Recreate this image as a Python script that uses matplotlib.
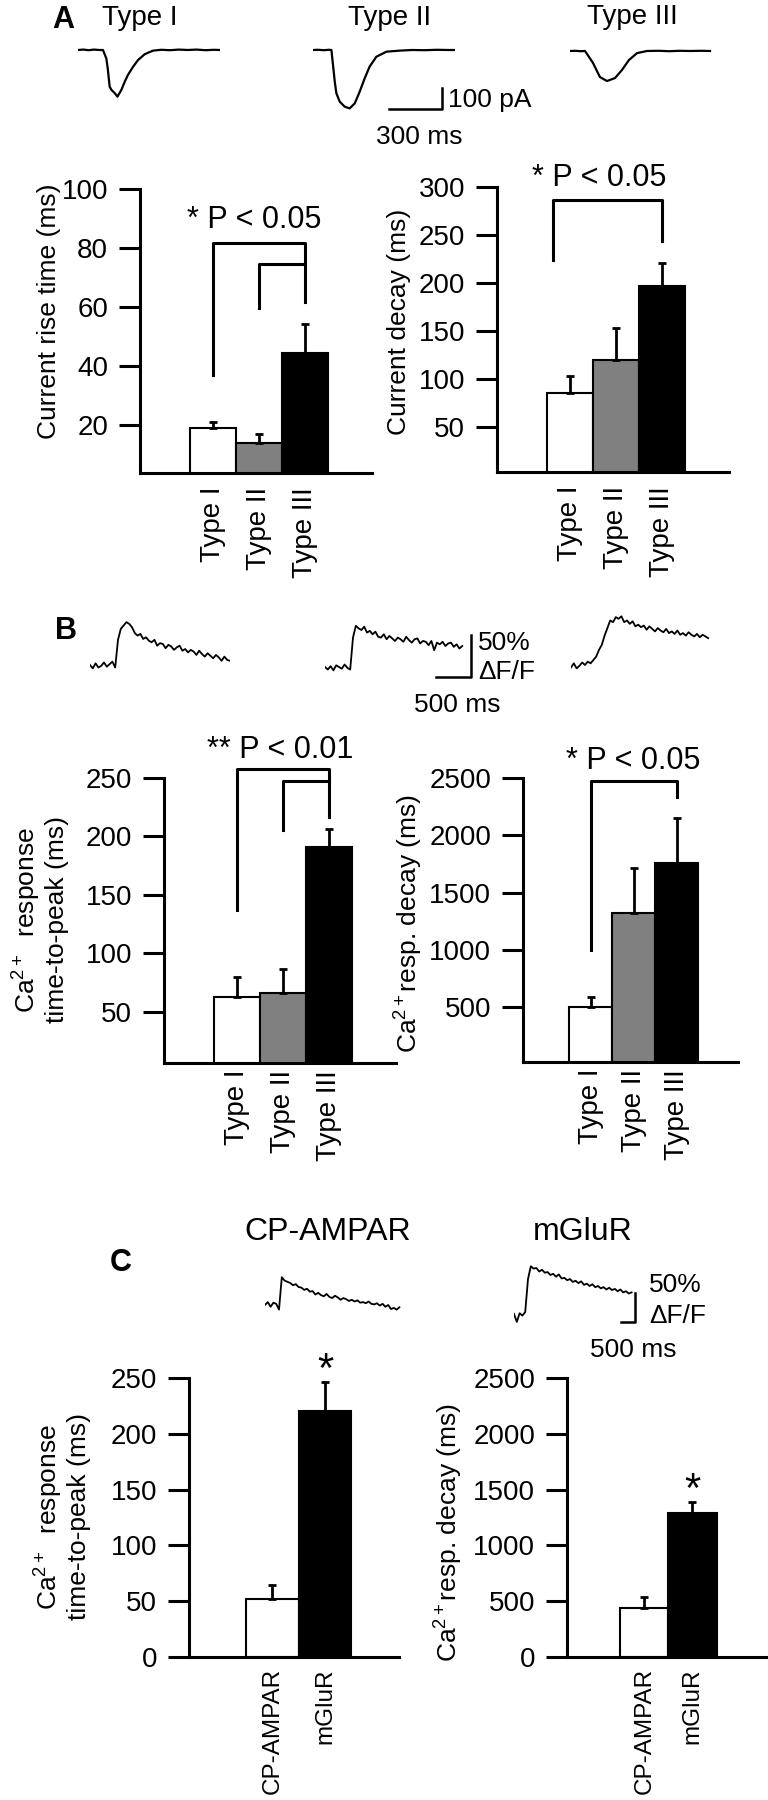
import matplotlib
matplotlib.use('Agg')
import matplotlib.pyplot as plt
import numpy as np

plt.rcParams['font.family'] = ['Liberation Sans', 'DejaVu Sans']
plt.rcParams['mathtext.fontset'] = 'custom'
plt.rcParams['mathtext.rm'] = 'Liberation Sans'
plt.rcParams['mathtext.it'] = 'Liberation Sans:italic'
plt.rcParams['mathtext.bf'] = 'Liberation Sans:bold'

W, H = 768, 1800

# bar chart data (mean, upper SEM)
types = ['Type I', 'Type II', 'Type III']
receptors = ['CP-AMPAR', 'mGluR']

rise_mean = [19, 14, 44.4]
rise_sem = [2, 3, 9.8]
decay_mean = [85.4, 119.8, 197]
decay_sem = [17.6, 33.2, 24]
ca_ttp_mean = [63, 66.3, 191.4]
ca_ttp_sem = [17, 20.5, 15.3]
ca_decay_mean = [500, 1322, 1761]
ca_decay_sem = [87, 396, 387]
rec_ttp_mean = [52, 220.6]
rec_ttp_sem = [12.5, 25.4]
rec_decay_mean = [439, 1290]
rec_decay_sem = [99, 99]

# example currents (ms, pA)
i1_t = [0, 30, 60, 90, 120, 141, 160, 168, 179, 189, 207, 223, 245, 264, 282, 311, 339, 377, 424, 470, 520, 570, 620, 670, 720, 770, 800]
i1_v = [0, 2, -1, 2, 0, 0, -40, -88, -175, -190, -205, -222, -190, -151, -119, -80, -48, -20, -3, 1, -1, 2, 0, 2, -1, 1, 0]
i2_t = [0, 30, 60, 90, 104, 113, 123, 132, 151, 179, 207, 236, 264, 292, 320, 358, 415, 490, 560, 630, 700, 760, 800]
i2_v = [0, 1, -1, 1, 0, -71, -151, -206, -246, -270, -278, -254, -198, -135, -79, -32, -8, -3, 0, -1, 1, 0, 0]
i3_t = [0, 30, 60, 85, 130, 169, 209, 254, 294, 333, 379, 435, 500, 560, 620, 680, 740, 791]
i3_v = [0, 1, -1, 0, -57, -124, -143, -129, -90, -43, -10, 0, 1, -1, 1, 0, 1, 0]

# Ca2+ responses (dF/F %), B sampled every 40 ms, C every 100 ms
ca1 = [0, -4, 2, -3, -1, 3, -2, 1, 4, -3, 30, 43, 47, 51, 49, 45, 38, 35, 37, 31, 33, 29, 27, 30, 23,
       26, 25, 20, 24, 22, 18, 21, 23, 17, 19, 15, 18, 16, 12, 17, 13, 10, 14, 11, 8, 12, 9, 5, 10, 6, 5]
ca2 = [0, -3, 1, -4, 2, 0, -2, 3, -1, -3, 35, 49, 46, 44, 48, 41, 43, 39, 42, 36, 35, 39, 33, 37, 34,
       31, 35, 33, 30, 36, 32, 29, 33, 34, 28, 31, 30, 26, 31, 20, 29, 27, 30, 25, 28, 29, 24, 27, 22, 25]
ca3 = [-3, 2, -4, -1, 3, 0, 4, 2, 6, 10, 18, 24, 35, 44, 53, 51, 57, 55, 58, 51, 53, 49, 52, 46, 48,
       45, 47, 42, 46, 43, 40, 44, 41, 39, 43, 38, 40, 37, 41, 36, 38, 35, 39, 36, 34, 37, 33, 36, 34, 32]
ca_cp = [0, 5, -3, 4, 2, -8, 48, 42, 40, 38, 34, 36, 31, 30, 26, 28, 23, 24, 18, 21, 17, 15, 19, 14, 12,
         16, 13, 9, 12, 10, 7, 9, 6, 8, 4, 5, 3, 6, 2, 1, 3, -1, 2, -3, 0, -7, -5, -8, -4]
ca_mg = [2, -12, 3, -1, 5, 62, 84, 80, 81, 75, 78, 73, 74, 69, 71, 66, 70, 63, 64, 60, 62, 57, 59, 55, 58,
         52, 54, 50, 53, 48, 50, 46, 48, 44, 47, 43, 45, 41, 44, 39, 41, 37, 39]

fig = plt.figure(figsize=(W / 100, H / 100), dpi=100)


def px_axes(x0, y0, w, h):
    return fig.add_axes([x0 / W, 1 - (y0 + h) / H, w / W, h / H])


def ftext(x, y, s, **kw):
    kw.setdefault('ha', 'center')
    kw.setdefault('va', 'center')
    fig.text(x / W, 1 - y / H, s, **kw)


def trace_axes(x_px, base_px, t_span, v_lo, v_hi, sx, sy):
    ax = px_axes(x_px, base_px - v_hi * sy, t_span * sx, (v_hi - v_lo) * sy)
    ax.set_xlim(0, t_span)
    ax.set_ylim(v_lo, v_hi)
    ax.axis('off')
    return ax


def scale_bar(ax, t0, v0, dt, dv):
    ax.plot([t0 - dt, t0, t0], [v0, v0, v0 + dv], color='black', lw=1.8, clip_on=False)


def bar_panel(rect, xlim, ylim, yticks, means, sems, colors, labels, xfs=20, xpad=10):
    ax = px_axes(*rect)
    x = np.arange(len(means))
    ax.bar(x, means, width=1.0, color=colors, edgecolor='black', linewidth=1.5, zorder=2)
    ax.errorbar(x, means, yerr=[[0] * len(sems), sems], fmt='none', ecolor='black',
                elinewidth=2, capsize=3, capthick=2, zorder=3)
    ax.set_xlim(xlim)
    ax.set_ylim(ylim)
    ax.set_yticks(yticks)
    ax.set_xticks(x)
    ax.set_xticklabels(labels, rotation=90, fontsize=xfs)
    ax.tick_params(axis='x', length=0, pad=xpad)
    ax.tick_params(axis='y', direction='out', length=15, width=2.2, labelsize=20, pad=8)
    for s in ['top', 'right']:
        ax.spines[s].set_visible(False)
    for s in ['left', 'bottom']:
        ax.spines[s].set_linewidth(2.2)
    ax.patch.set_alpha(0)
    return ax


def bracket(ax, xs, ys):
    ax.plot(xs, ys, color='black', lw=2.2, clip_on=False)


col3 = ['white', '#808080', 'black']
col2 = ['white', 'black']

# ---------------- A ----------------
ftext(63, 20, 'A', fontsize=22, fontweight='bold')
ftext(140, 18, 'Type I', fontsize=20)
ftext(390, 18, 'Type II', fontsize=20)
ftext(632, 17, 'Type III', fontsize=20)

sxA, syA = 0.177, 0.21
ax = trace_axes(78, 50, 800, -300, 20, sxA, syA)
ax.plot(i1_t, i1_v, color='black', lw=1.6)
ax = trace_axes(313, 50, 800, -300, 20, sxA, syA)
ax.plot(i2_t, i2_v, color='black', lw=1.6)
scale_bar(ax, 727, -281, 300, 100)
ax = trace_axes(570, 51, 800, -300, 20, sxA, syA)
ax.plot(i3_t, i3_v, color='black', lw=1.6)
ftext(448, 100, '100 pA', fontsize=19, ha='left')
ftext(419, 137, '300 ms', fontsize=19)

ax = bar_panel((140, 189, 232, 284), (-1.576, 3.467), (3.7, 100), [20, 40, 60, 80, 100],
               rise_mean, rise_sem, col3, types, xpad=10)
bracket(ax, [0, 0, 2, 2], [37, 81.7, 81.7, 61.7])
bracket(ax, [1, 1, 2], [59.7, 74.6, 74.6])
ax.text(0.9, 89.5, '* P < 0.05', fontsize=22, ha='center', va='center')
ftext(49, 311, 'Current rise time (ms)', fontsize=19, rotation=90)

ax = bar_panel((497, 187, 232, 285), (-1.576, 3.467), (3, 300), [50, 100, 150, 200, 250, 300],
               decay_mean, decay_sem, col3, types, xpad=10)
bracket(ax, [-0.36, -0.36, 2, 2], [224, 286, 286, 244])
ax.text(0.65, 309, '* P < 0.05', fontsize=22, ha='center', va='center')
ftext(399, 322, 'Current decay (ms)', fontsize=19, rotation=90)

# ---------------- B ----------------
ftext(66, 631, 'B', fontsize=22, fontweight='bold')
sxB, syB = 0.07, 0.84
ax = trace_axes(90, 665, 2000, -20, 70, sxB, syB)
ax.plot(np.arange(len(ca1)) * 40, ca1, color='black', lw=1.3)
ax = trace_axes(325, 667, 2000, -20, 70, sxB, syB)
ax.plot(np.arange(len(ca2)) * 40, ca2, color='black', lw=1.3)
scale_bar(ax, 2086, -12, 500, 50)
ax = trace_axes(571, 665, 2000, -20, 70, sxB, syB)
ax.plot(np.arange(len(ca3)) * 40, ca3, color='black', lw=1.3)
ftext(478, 643, '50%', fontsize=19, ha='left')
ftext(478, 672, '\u0394F/F', fontsize=19, ha='left')
ftext(457, 705, '500 ms', fontsize=19)

ax = bar_panel((164, 778, 232, 285), (-1.587, 3.457), (6.4, 250), [50, 100, 150, 200, 250],
               ca_ttp_mean, ca_ttp_sem, col3, types, xpad=5)
bracket(ax, [0, 0, 2, 2], [137, 257.7, 257.7, 216.5])
bracket(ax, [1, 1, 2], [205.6, 247.4, 247.4])
ax.text(0.93, 274, '** P < 0.01', fontsize=22, ha='center', va='center')
ftext(40, 920, 'Ca$^{2+}$  response\ntime-to-peak (ms)', fontsize=19, rotation=90,
      multialignment='center', linespacing=1.1)

ax = bar_panel((523, 778, 215, 284), (-1.58, 3.42), (20, 2500), [500, 1000, 1500, 2000, 2500],
               ca_decay_mean, ca_decay_sem, col3, types, xpad=5)
bracket(ax, [0, 0, 2, 2], [1000, 2474, 2474, 2330])
ax.text(0.98, 2648, '* P < 0.05', fontsize=22, ha='center', va='center')
ftext(409, 924, 'Ca$^{2+}$resp. decay (ms)', fontsize=19, rotation=90)

# ---------------- C ----------------
ftext(121, 1263, 'C', fontsize=22, fontweight='bold')
ftext(328, 1232, 'CP-AMPAR', fontsize=23)
ftext(583, 1232, 'mGluR', fontsize=23)
sxC, syC = 0.028, 0.58
ax = trace_axes(265, 1305, 4900, -20, 100, sxC, syC)
ax.plot(np.arange(len(ca_cp)) * 100, ca_cp, color='black', lw=1.3)
ax = trace_axes(514, 1315, 4900, -20, 100, sxC, syC)
ax.plot(np.arange(len(ca_mg)) * 100, ca_mg, color='black', lw=1.3)
scale_bar(ax, 4321, -12, 500, 50)
ftext(649, 1285, '50%', fontsize=19, ha='left')
ftext(649, 1316, '\u0394F/F', fontsize=19, ha='left')
ftext(633, 1350, '500 ms', fontsize=19)

ax = bar_panel((189, 1378, 210, 279), (-1.59, 2.41), (0, 250), [0, 50, 100, 150, 200, 250],
               rec_ttp_mean, rec_ttp_sem, col2, receptors, xfs=17.5, xpad=8)
ax.text(1, rec_ttp_mean[1] + rec_ttp_sem[1], '*', fontsize=30, ha='center', va='baseline')
ftext(62, 1517, 'Ca$^{2+}$  response\ntime-to-peak (ms)', fontsize=19, rotation=90,
      multialignment='center', linespacing=1.1)

ax = bar_panel((567, 1378, 200, 279), (-1.61, 2.55), (0, 2500), [0, 500, 1000, 1500, 2000, 2500],
               rec_decay_mean, rec_decay_sem, col2, receptors, xfs=17.5, xpad=8)
ax.text(1, rec_decay_mean[1] + rec_decay_sem[1], '*', fontsize=30, ha='center', va='baseline')
ftext(449, 1533, 'Ca$^{2+}$resp. decay (ms)', fontsize=19, rotation=90)

fig.savefig('out.png', dpi=100)
